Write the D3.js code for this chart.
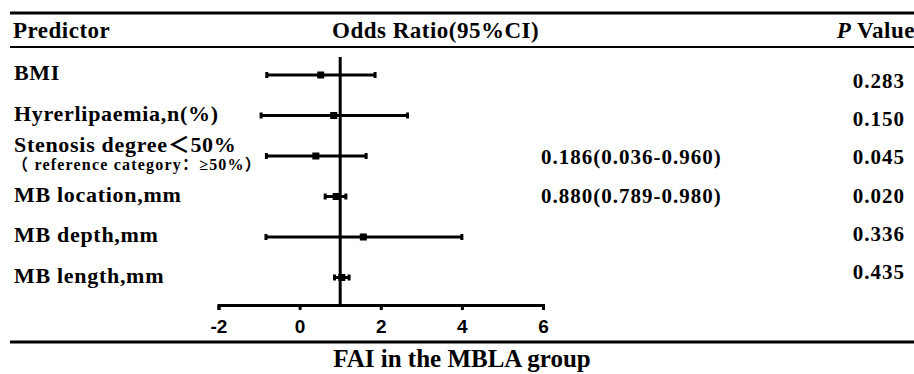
<!DOCTYPE html>
<html>
<head>
<meta charset="utf-8">
<script src="https://cdn.jsdelivr.net/npm/d3@7"></script>
<style>
  body { margin: 0; background: #fff; }
  svg { display: block; }
</style>
</head>
<body>
<svg id="forest"></svg>
<script>
// rows of the table, top to bottom
const predictors = ['BMI', 'Hyrerlipaemia,n(%)', 'Stenosis degree＜50%', 'MB location,mm', 'MB depth,mm', 'MB length,mm'];
const subLabels = ['', '', '（ reference category：≥50%）', '', '', ''];
const oddsRatio = [0.52, 0.84, 0.40, 0.90, 1.57, 1.04];
const ciLower = [-0.81, -0.95, -0.82, 0.63, -0.83, 0.86];
const ciUpper = [1.86, 2.66, 1.64, 1.14, 4.0, 1.22];
const orText = ['', '', '0.186(0.036-0.960)', '0.880(0.789-0.980)', '', ''];
const pValues = ['0.283', '0.150', '0.045', '0.020', '0.336', '0.435'];
const xTicks = [-2, 0, 2, 4, 6];

const width = 914;
const height = 374;
const serif = '"Liberation Serif", "Times New Roman", "Noto Sans CJK SC", serif';

const data = predictors.map((p, i) => ({
	name: p,
	sub: subLabels[i],
	or: oddsRatio[i],
	lo: ciLower[i],
	hi: ciUpper[i],
	orText: orText[i],
	p: pValues[i],
}));

const svg = d3.select('#forest').attr('width', width).attr('height', height);

const x = d3.scaleLinear().domain([-2, 6]).range([218.5, 543]);
const y = d3.scalePoint().domain(predictors).range([75, 277.5]);
// the text columns on the right sit on their own rows
const yText = d3.scalePoint().domain(predictors).range([88, 279]);

const axisY = 305;

// table rules
svg.append('line').attr('x1', 10).attr('x2', width).attr('y1', 13).attr('y2', 13)
	.attr('stroke', '#000').attr('stroke-width', 3);
svg.append('line').attr('x1', 10).attr('x2', width).attr('y1', 47).attr('y2', 47)
	.attr('stroke', '#000').attr('stroke-width', 2);
svg.append('line').attr('x1', 10).attr('x2', width).attr('y1', 342).attr('y2', 342)
	.attr('stroke', '#000').attr('stroke-width', 3);

// header
const header = svg.append('g').attr('font-family', serif).attr('font-weight', 'bold')
	.attr('font-size', 23).attr('letter-spacing', 0.5);
header.append('text').attr('x', 13).attr('y', 38).text('Predictor');
header.append('text').attr('x', 332).attr('y', 38).text('Odds Ratio(95%CI)');
const pHead = header.append('text').attr('x', 915).attr('y', 38).attr('text-anchor', 'end');
pHead.append('tspan').attr('font-style', 'italic').text('P');
pHead.append('tspan').text(' Value');

// predictor labels
const labels = svg.append('g').attr('font-family', serif).attr('font-weight', 'bold');
labels.selectAll('text.name')
	.data(data)
	.join('text')
	.attr('class', 'name')
	.attr('x', 14)
	.attr('y', (d) => (d.sub ? y(d.name) - 4 : y(d.name) + 5))
	.attr('font-size', 22)
	.attr('letter-spacing', 0.7)
	.text((d) => d.name);
labels.selectAll('text.sub')
	.data(data.filter((d) => d.sub))
	.join('text')
	.attr('class', 'sub')
	.attr('x', 12)
	.attr('y', (d) => y(d.name) + 14)
	.attr('font-size', 16)
	.attr('letter-spacing', 1.2)
	.text((d) => d.sub);

// OR text and p values
const cols = svg.append('g').attr('font-family', serif).attr('font-weight', 'bold')
	.attr('font-size', 21).attr('letter-spacing', 1);
cols.selectAll('text.or')
	.data(data.filter((d) => d.orText))
	.join('text')
	.attr('class', 'or')
	.attr('x', 541)
	.attr('y', (d) => yText(d.name))
	.text((d) => d.orText);
cols.selectAll('text.p')
	.data(data)
	.join('text')
	.attr('class', 'p')
	.attr('x', 905)
	.attr('y', (d) => yText(d.name))
	.attr('text-anchor', 'end')
	.text((d) => d.p);

// reference line at OR = 1
svg.append('line')
	.attr('x1', x(1)).attr('x2', x(1))
	.attr('y1', 57).attr('y2', axisY)
	.attr('stroke', '#000').attr('stroke-width', 3);

// confidence intervals
const bars = svg.append('g').attr('stroke', '#000').attr('stroke-width', 3);
bars.selectAll('line.ci')
	.data(data)
	.join('line')
	.attr('class', 'ci')
	.attr('x1', (d) => x(d.lo))
	.attr('x2', (d) => x(d.hi))
	.attr('y1', (d) => y(d.name))
	.attr('y2', (d) => y(d.name));
bars.selectAll('line.capL')
	.data(data)
	.join('line')
	.attr('class', 'capL')
	.attr('x1', (d) => x(d.lo)).attr('x2', (d) => x(d.lo))
	.attr('y1', (d) => y(d.name) - 3).attr('y2', (d) => y(d.name) + 3);
bars.selectAll('line.capR')
	.data(data)
	.join('line')
	.attr('class', 'capR')
	.attr('x1', (d) => x(d.hi)).attr('x2', (d) => x(d.hi))
	.attr('y1', (d) => y(d.name) - 3).attr('y2', (d) => y(d.name) + 3);
svg.append('g')
	.selectAll('rect')
	.data(data)
	.join('rect')
	.attr('x', (d) => x(d.or) - 3.5)
	.attr('y', (d) => y(d.name) - 3.5)
	.attr('width', 7)
	.attr('height', 7)
	.attr('fill', '#000');

// x axis
svg.append('g')
	.attr('transform', `translate(0,${axisY})`)
	.call(d3.axisBottom(x).tickValues(xTicks).tickSize(5).tickSizeOuter(5).tickPadding(10).tickFormat((d) => String(d)))
	.call((g) => g.select('.domain').attr('stroke-width', 3))
	.call((g) => g.selectAll('.tick line').attr('stroke-width', 3))
	.call((g) => g.selectAll('.tick text')
		.attr('font-family', '"Liberation Sans", Arial, sans-serif')
		.attr('font-weight', 'bold')
		.attr('font-size', 19)
		.attr('fill', '#000'));

// footer title
svg.append('text')
	.attr('x', 462)
	.attr('y', 367)
	.attr('text-anchor', 'middle')
	.attr('font-family', serif)
	.attr('font-weight', 'bold')
	.attr('font-size', 25)
	.text('FAI in the MBLA group');
</script>
</body>
</html>
